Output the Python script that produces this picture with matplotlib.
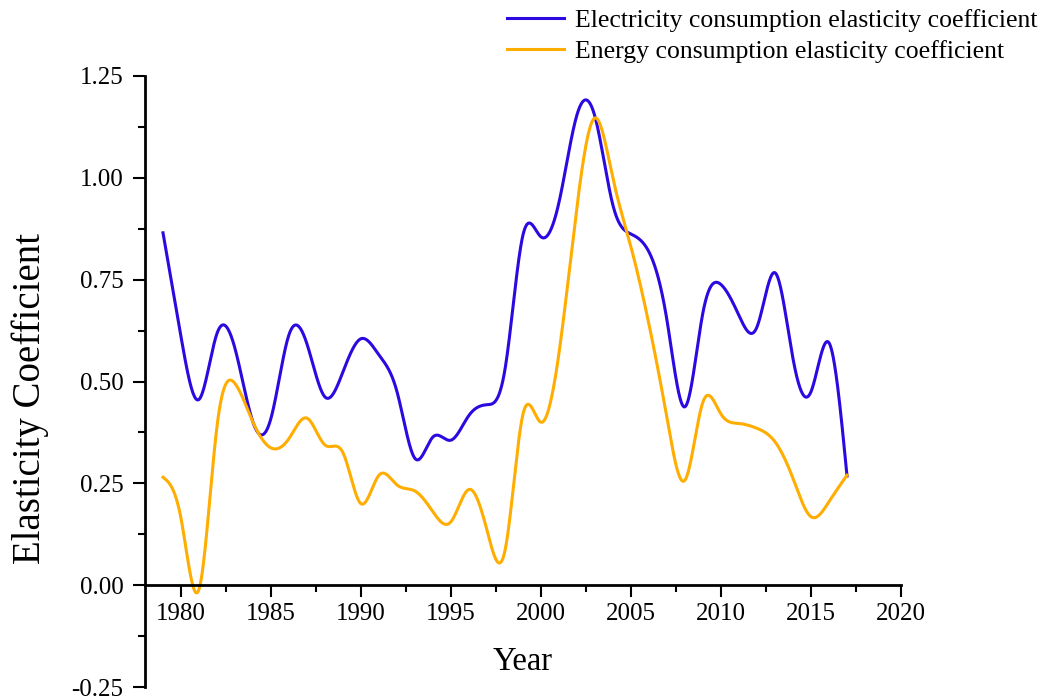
import numpy as np
import matplotlib
matplotlib.use('Agg')
import matplotlib.pyplot as plt
from matplotlib.ticker import MultipleLocator, FormatStrFormatter

# yearly values
years = list(range(1979, 2018))
electricity = [0.865, 0.61, 0.456, 0.618, 0.581, 0.40, 0.41, 0.615, 0.592, 0.462,
               0.524, 0.605, 0.565, 0.475, 0.311, 0.364, 0.356, 0.417, 0.443, 0.53,
               0.86, 0.855, 0.94, 1.155, 1.15, 0.932, 0.862, 0.818, 0.65, 0.438,
               0.67, 0.738, 0.662, 0.634, 0.767, 0.556, 0.475, 0.595, 0.268]
energy = [0.265, 0.164, -0.01, 0.39, 0.495, 0.40, 0.337, 0.36, 0.41, 0.344,
          0.325, 0.20, 0.27, 0.246, 0.231, 0.18, 0.156, 0.235, 0.135, 0.085,
          0.42, 0.40, 0.57, 0.93, 1.147, 0.998, 0.83, 0.64, 0.41, 0.258,
          0.45, 0.42, 0.397, 0.385, 0.352, 0.262, 0.168, 0.205, 0.27]

labels = ['Electricity consumption elasticity coefficient',
          'Energy consumption elasticity coefficient']
colors = ['#2a0ae0', '#ffad00']


def spline(x, y, n=2000):
    # natural cubic spline, like the spline connector of the original
    x = np.asarray(x, float)
    y = np.asarray(y, float)
    k = len(x)
    h = np.diff(x)
    A = np.zeros((k, k))
    r = np.zeros(k)
    A[0, 0] = A[-1, -1] = 1
    for i in range(1, k - 1):
        A[i, i - 1] = h[i - 1]
        A[i, i] = 2 * (h[i - 1] + h[i])
        A[i, i + 1] = h[i]
        r[i] = 3 * ((y[i + 1] - y[i]) / h[i] - (y[i] - y[i - 1]) / h[i - 1])
    c = np.linalg.solve(A, r)
    b = (y[1:] - y[:-1]) / h - h * (2 * c[:-1] + c[1:]) / 3
    d = (c[1:] - c[:-1]) / (3 * h)
    xs = np.linspace(x[0], x[-1], n)
    j = np.clip(np.searchsorted(x, xs) - 1, 0, k - 2)
    t = xs - x[j]
    return xs, y[j] + b[j] * t + c[j] * t ** 2 + d[j] * t ** 3


plt.rcParams['font.family'] = ['Liberation Serif', 'DejaVu Serif']

fig = plt.figure(figsize=(10.5, 6.98), dpi=100)
ax = fig.add_axes([145 / 1050, 11 / 698, 756 / 1050, 611 / 698])

for vals, lab, col in zip([electricity, energy], labels, colors):
    xs, ys = spline(years, vals)
    ax.plot(xs, ys, color=col, lw=2.2, label=lab)

ax.set_xlim(1978, 2020)
ax.set_ylim(-0.25, 1.25)
ax.spines['top'].set_visible(False)
ax.spines['right'].set_visible(False)
ax.spines['bottom'].set_position(('data', 0))
for s in ['left', 'bottom']:
    ax.spines[s].set_linewidth(2.0)

ax.xaxis.set_major_locator(MultipleLocator(5))
ax.xaxis.set_minor_locator(MultipleLocator(2.5))
ax.yaxis.set_major_locator(MultipleLocator(0.25))
ax.yaxis.set_minor_locator(MultipleLocator(0.125))
ax.yaxis.set_major_formatter(FormatStrFormatter('%.2f'))
ax.set_xticks([1980, 1985, 1990, 1995, 2000, 2005, 2010, 2015, 2020])
ax.tick_params(which='major', direction='out', length=8.5, width=1.5, labelsize=18)
ax.tick_params(axis='x', which='major', pad=4)
ax.tick_params(axis='y', which='major', pad=7)
ax.tick_params(which='minor', direction='out', length=4.7, width=1.5)

ax.set_xlabel('Year', fontsize=23.5)
ax.xaxis.set_label_coords(0.5, (687 - 646) / 611)
ax.set_ylabel('Elasticity Coefficient', fontsize=28)
ax.yaxis.set_label_coords((49 - 145) / 756, (687 - 398) / 611)

fig.legend(loc='upper left', bbox_to_anchor=(507 / 1050, 1 - 9 / 698), frameon=False,
           fontsize=18.5, handlelength=2.2, handletextpad=0.45, labelspacing=0.32,
           borderpad=0, borderaxespad=0)

fig.savefig('out.png', dpi=100)
